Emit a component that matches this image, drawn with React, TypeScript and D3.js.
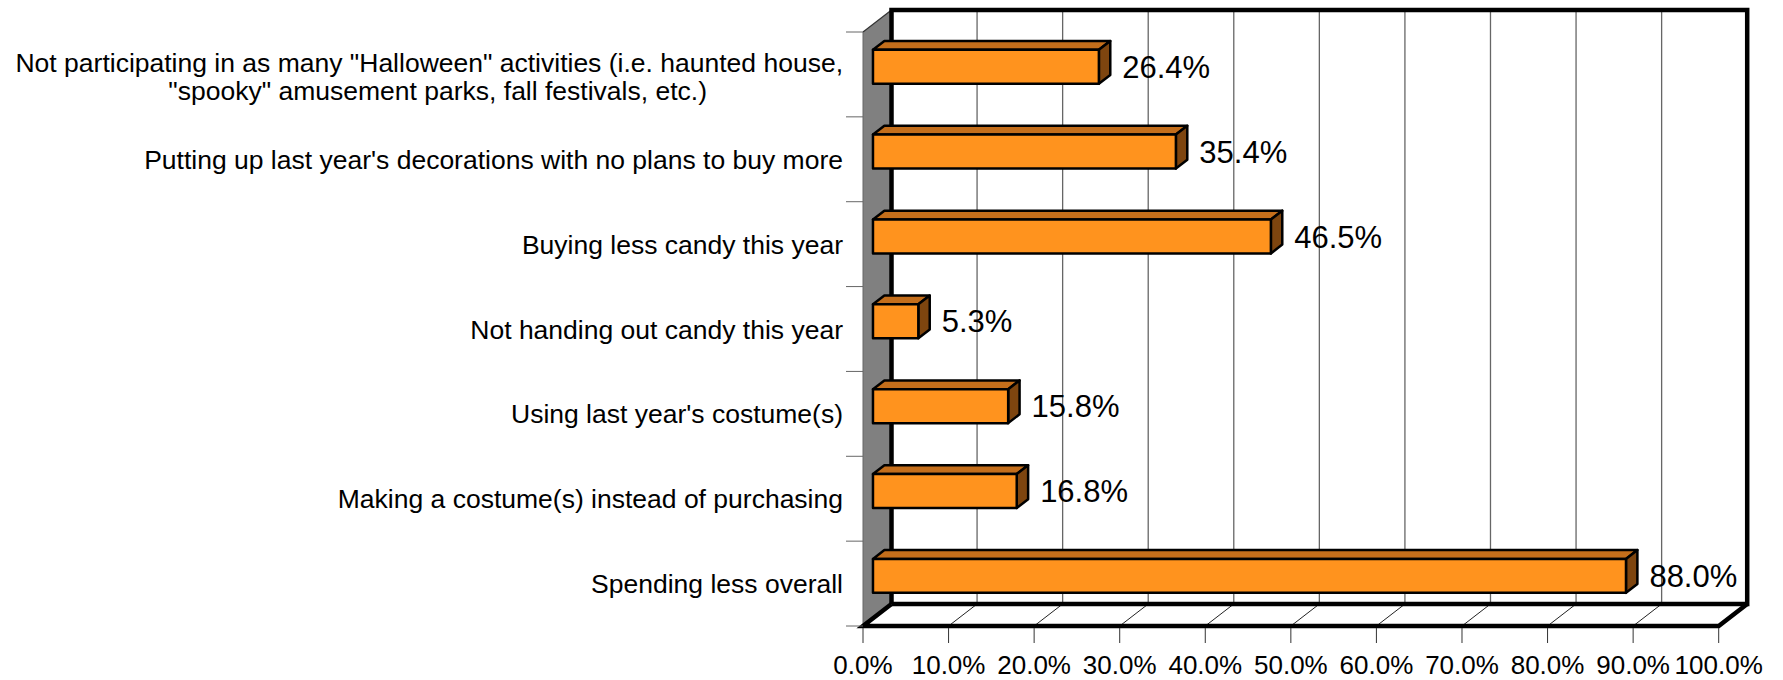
import { scaleLinear, scaleBand, range, format } from "d3";

const categories: string[][] = [
  [
    'Not participating in as many "Halloween" activities (i.e. haunted house,',
    '"spooky" amusement parks, fall festivals, etc.)',
  ],
  ["Putting up last year's decorations with no plans to buy more"],
  ["Buying less candy this year"],
  ["Not handing out candy this year"],
  ["Using last year's costume(s)"],
  ["Making a costume(s) instead of purchasing"],
  ["Spending less overall"],
];
const values = [26.4, 35.4, 46.5, 5.3, 15.8, 16.8, 88.0];
const xTickValues = [0, 10, 20, 30, 40, 50, 60, 70, 80, 90, 100];

const W = 1783;
const H = 680;
// oblique depth of the 3D box
const DX = 28.5;
const DY = 22;
// bar depth range (0 = front, 1 = back wall)
const D0 = 0.35;
const D1 = 0.75;

const FONT = '"Liberation Sans", Arial, Helvetica, sans-serif';

export default function App() {
  const keys = categories.map((c) => c.join(" "));
  const xScale = scaleLinear().domain([0, 100]).range([863, 1718.7]);
  const yScale = scaleBand<string>()
    .domain(keys)
    .range([32, 626])
    .paddingInner(0.6)
    .paddingOuter(0.3);

  const top = yScale.range()[0];
  const bottom = yScale.range()[1];
  const x0 = xScale(0);
  const x1 = xScale(100);
  const step = yScale.step();

  const p = (x: number, y: number, d: number) => `${x + d * DX},${y - d * DY}`;
  const fmt = format(".1f");

  const labelX = 843;
  // wrapped continuation lines end short of the axis in the original
  const contInset = 136;

  return (
    <div style={{ position: "absolute", left: 0, top: 0 }}>
      <svg width={W} height={H} style={{ display: "block", background: "#fff" }} fontFamily={FONT}>
        {/* left wall */}
        <polygon
          points={[p(x0, top, 0), p(x0, top, 1), p(x0, bottom, 1), p(x0, bottom, 0)].join(" ")}
          fill="#808080"
        />
        <line x1={x0} y1={top} x2={x0 + DX} y2={top - DY} stroke="#333" strokeWidth={1.2} />
        <line x1={x0} y1={top} x2={x0} y2={bottom} stroke="#666" strokeWidth={1} />

        {/* back wall gridlines */}
        {xTickValues.slice(1, -1).map((t) => (
          <line
            key={`grid-${t}`}
            x1={xScale(t) + DX}
            y1={top - DY}
            x2={xScale(t) + DX}
            y2={bottom - DY}
            stroke="#666"
            strokeWidth={1.3}
          />
        ))}

        {/* floor gridlines */}
        {xTickValues.slice(1, -1).map((t) => (
          <line
            key={`floor-${t}`}
            x1={xScale(t)}
            y1={bottom}
            x2={xScale(t) + DX}
            y2={bottom - DY}
            stroke="#222"
            strokeWidth={1}
          />
        ))}

        {/* box outline */}
        <polyline
          points={[p(x0, bottom, 1), p(x0, top, 1), p(x1, top, 1), p(x1, bottom, 1), p(x0, bottom, 1)].join(" ")}
          fill="none"
          stroke="#000"
          strokeWidth={4.5}
        />
        <polyline
          points={[p(x0, bottom, 1), p(x0, bottom, 0), p(x1, bottom, 0), p(x1, bottom, 1)].join(" ")}
          fill="none"
          stroke="#000"
          strokeWidth={4.5}
          strokeLinejoin="miter"
        />

        {/* category axis ticks */}
        {range(keys.length + 1).map((i) => (
          <line
            key={`ytick-${i}`}
            x1={x0 - 17}
            y1={top + step * i}
            x2={x0}
            y2={top + step * i}
            stroke="#666"
            strokeWidth={1}
          />
        ))}

        {/* value axis ticks and labels */}
        {xTickValues.map((t) => (
          <g key={`xtick-${t}`} transform={`translate(${xScale(t)},${bottom})`}>
            <line y1={2} y2={17} stroke="#333" strokeWidth={1} />
            <text y={48} textAnchor="middle" fontSize={26} fill="#000">
              {fmt(t)}%
            </text>
          </g>
        ))}

        {/* category labels */}
        {categories.map((lines, i) => {
          const cy = (yScale(keys[i]) ?? 0) + yScale.bandwidth() / 2 + (lines.length > 1 ? 2 : 0);
          const lh = 28;
          return (
            <text key={`cat-${i}`} textAnchor="end" fontSize={26.5} fill="#000">
              {lines.map((l, j) => (
                <tspan
                  key={j}
                  x={j === 0 ? labelX : labelX - contInset}
                  y={cy + (j - (lines.length - 1) / 2) * lh}
                  dy="0.36em"
                >
                  {l}
                </tspan>
              ))}
            </text>
          );
        })}

        {/* bars */}
        {values.map((v, i) => {
          const y0 = yScale(keys[i]) ?? 0;
          const y1 = y0 + yScale.bandwidth();
          const xs = xScale(0);
          const xe = xScale(v);
          return (
            <g key={`bar-${i}`} stroke="#000" strokeWidth={2.5} strokeLinejoin="round">
              <polygon
                points={[p(xs, y0, D0), p(xs, y0, D1), p(xe, y0, D1), p(xe, y0, D0)].join(" ")}
                fill="#C46E1B"
              />
              <polygon
                points={[p(xe, y0, D0), p(xe, y0, D1), p(xe, y1, D1), p(xe, y1, D0)].join(" ")}
                fill="#7E450F"
              />
              <polygon
                points={[p(xs, y0, D0), p(xe, y0, D0), p(xe, y1, D0), p(xs, y1, D0)].join(" ")}
                fill="#FF931E"
              />
              <text
                x={xe + D1 * DX + 12}
                y={(y0 + y1) / 2 - D0 * DY}
                dy="0.36em"
                fontSize={31}
                fill="#000"
                stroke="none"
              >
                {fmt(v)}%
              </text>
            </g>
          );
        })}
      </svg>
    </div>
  );
}
